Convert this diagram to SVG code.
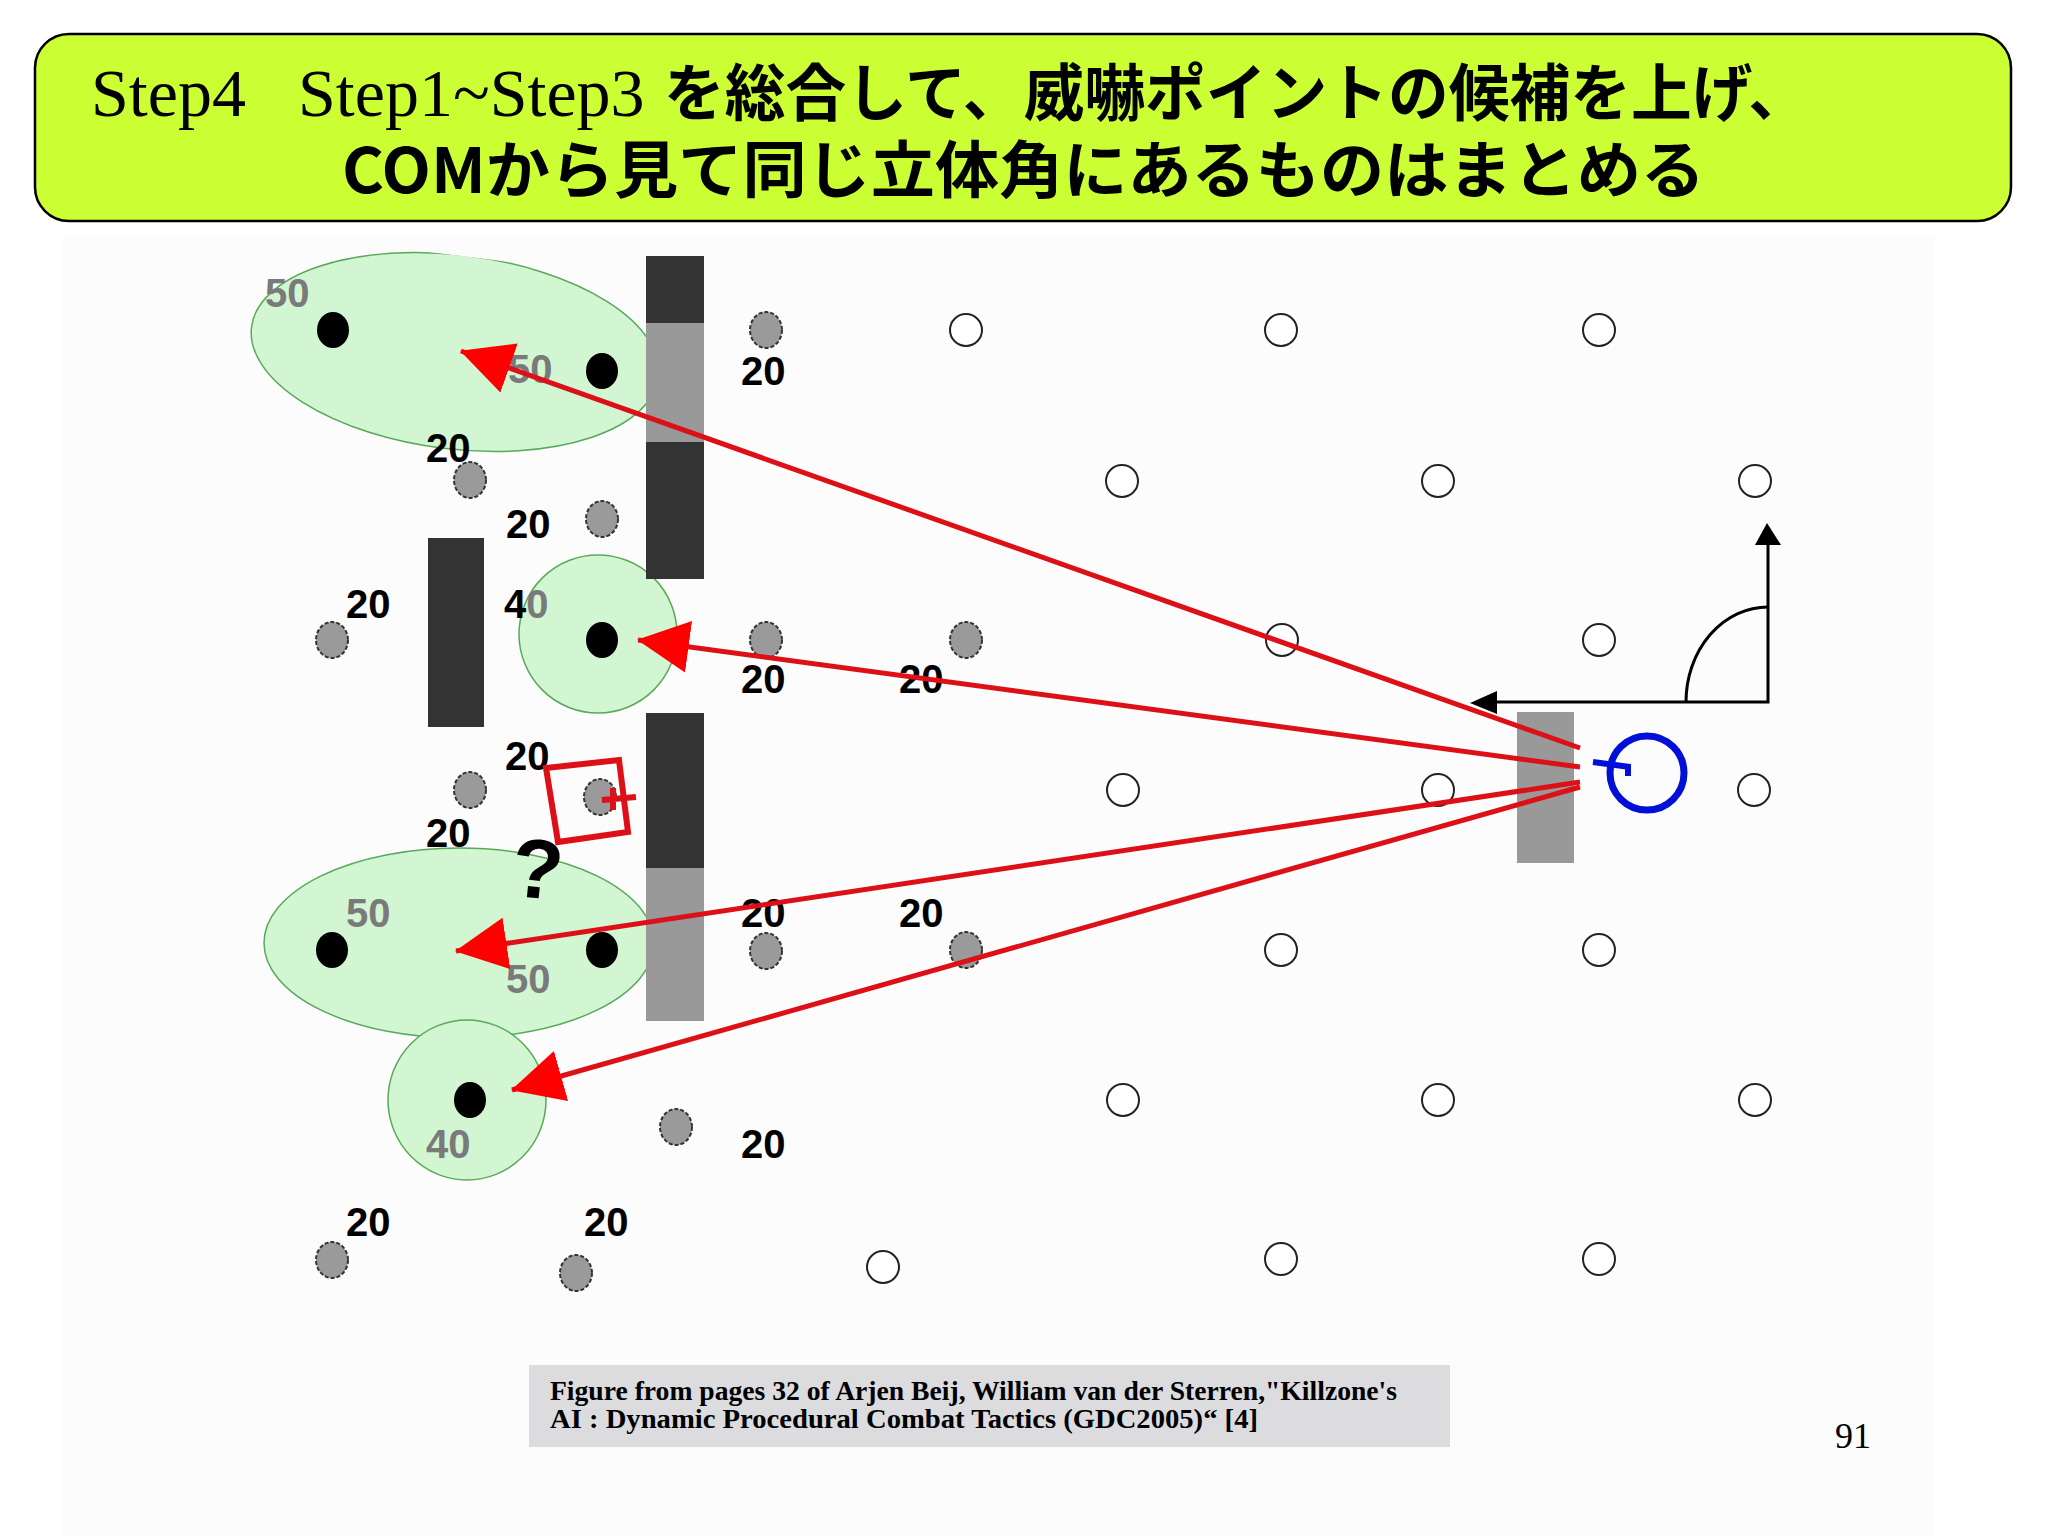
<svg xmlns="http://www.w3.org/2000/svg" width="2048" height="1536" viewBox="0 0 2048 1536">
<defs>
<style>
.title{fill:#ccff33;stroke:#000;stroke-width:2.5}
.serif{font-family:"Liberation Serif","Times New Roman",serif}
.jp{font-family:"Noto Sans CJK JP","Noto Sans",sans-serif;font-weight:bold}
.zone{fill:#d2f5d2;stroke:#5aa85a;stroke-width:1.5}
.wall{fill:#333333}
.wallg{fill:#999999}
.blk{fill:#000}
.gry{fill:#9a9a9a;stroke:#333;stroke-width:2;stroke-dasharray:4 2}
.opn{fill:#fff;stroke:#222;stroke-width:2}
.num{font-family:"Liberation Sans",Arial,sans-serif;font-weight:bold;font-size:40px;fill:#000}
.dim{fill:#7a7a7a}
.ray{fill:none;stroke:#dd1018;stroke-width:5;marker-end:url(#ah)}
.axis{fill:none;stroke:#000;stroke-width:3}
</style>
<marker id="ah" markerUnits="userSpaceOnUse" markerWidth="52" markerHeight="52" viewBox="0 0 52 52" refX="51" refY="26" orient="auto">
<path d="M0,0 L52,26 L0,52 z" fill="#ff0000"/>
</marker>
<clipPath id="topclip"><rect x="0" y="256" width="2048" height="1280"/></clipPath>
</defs>
<rect width="2048" height="1536" fill="#ffffff"/>
<rect x="62" y="236" width="1872" height="1300" fill="#fcfcfc"/>

<g id="title">
<rect class="title" x="35" y="34" width="1976" height="187" rx="34" ry="34"/>
<text class="serif" x="91" y="116" font-size="68" fill="#000">Step4</text>
<text class="serif" x="298" y="116" font-size="68" fill="#000">Step1~Step3</text>
<text class="jp" x="664" y="116" font-size="62" fill="#000" textLength="1145" lengthAdjust="spacingAndGlyphs">を総合して、威嚇ポイントの候補を上げ、</text>
<text class="jp" x="342" y="193" font-size="62" fill="#000" textLength="1363" lengthAdjust="spacingAndGlyphs">COMから見て同じ立体角にあるものはまとめる</text>
</g>

<g id="zones">
<ellipse id="zone-top" class="zone" cx="455" cy="352" rx="205" ry="97" transform="rotate(7 455 352)" clip-path="url(#topclip)"/>
<ellipse id="zone-mid" class="zone" cx="598" cy="634" rx="79" ry="79"/>
<ellipse id="zone-bottom" class="zone" cx="459" cy="943" rx="195" ry="95"/>
<ellipse id="zone-low" class="zone" cx="467" cy="1100" rx="79" ry="80"/>
</g>

<g id="walls">
<g id="wall-top"><rect class="wall" x="646" y="256" width="58" height="323"/><rect class="wallg" x="646" y="323" width="58" height="119"/></g>
<rect id="wall-left" class="wall" x="428" y="538" width="56" height="189"/>
<g id="wall-bottom"><rect class="wall" x="646" y="713" width="58" height="308"/><rect class="wallg" x="646" y="868" width="58" height="153"/></g>
<rect id="wall-com" class="wallg" x="1517" y="712" width="57" height="151"/>
</g>

<g id="points">
<ellipse class="blk" cx="333" cy="330" rx="16" ry="18"/>
<ellipse class="blk" cx="602" cy="371" rx="16" ry="18"/>
<ellipse class="blk" cx="602" cy="640" rx="16" ry="18"/>
<ellipse class="blk" cx="332" cy="950" rx="16" ry="18"/>
<ellipse class="blk" cx="602" cy="950" rx="16" ry="18"/>
<ellipse class="blk" cx="470" cy="1100" rx="16" ry="18"/>

<ellipse class="gry" cx="766" cy="330" rx="16" ry="18"/>
<ellipse class="gry" cx="470" cy="480" rx="16" ry="18"/>
<ellipse class="gry" cx="602" cy="519" rx="16" ry="18"/>
<ellipse class="gry" cx="332" cy="640" rx="16" ry="18"/>
<ellipse class="gry" cx="766" cy="640" rx="16" ry="18"/>
<ellipse class="gry" cx="966" cy="640" rx="16" ry="18"/>
<ellipse class="gry" cx="470" cy="790" rx="16" ry="18"/>
<ellipse class="gry" cx="600" cy="797" rx="16" ry="18"/>
<ellipse class="gry" cx="766" cy="951" rx="16" ry="18"/>
<ellipse class="gry" cx="966" cy="950" rx="16" ry="18"/>
<ellipse class="gry" cx="676" cy="1127" rx="16" ry="18"/>
<ellipse class="gry" cx="332" cy="1260" rx="16" ry="18"/>
<ellipse class="gry" cx="576" cy="1273" rx="16" ry="18"/>

<circle class="opn" cx="966" cy="330" r="16"/>
<circle class="opn" cx="1281" cy="330" r="16"/>
<circle class="opn" cx="1599" cy="330" r="16"/>
<circle class="opn" cx="1122" cy="481" r="16"/>
<circle class="opn" cx="1438" cy="481" r="16"/>
<circle class="opn" cx="1755" cy="481" r="16"/>
<circle class="opn" cx="1282" cy="640" r="16"/>
<circle class="opn" cx="1599" cy="640" r="16"/>
<circle class="opn" cx="1123" cy="790" r="16"/>
<circle class="opn" cx="1438" cy="790" r="16"/>
<circle class="opn" cx="1754" cy="790" r="16"/>
<circle class="opn" cx="1281" cy="950" r="16"/>
<circle class="opn" cx="1599" cy="950" r="16"/>
<circle class="opn" cx="1123" cy="1100" r="16"/>
<circle class="opn" cx="1438" cy="1100" r="16"/>
<circle class="opn" cx="1755" cy="1100" r="16"/>
<circle class="opn" cx="883" cy="1267" r="16"/>
<circle class="opn" cx="1281" cy="1259" r="16"/>
<circle class="opn" cx="1599" cy="1259" r="16"/>
</g>

<g id="labels">
<text class="num dim" x="265" y="307">50</text>
<text class="num dim" x="508" y="383">50</text>
<text class="num" x="426" y="462">20</text>
<text class="num" x="741" y="385">20</text>
<text class="num" x="506" y="538">20</text>
<text class="num" x="346" y="618">20</text>
<text class="num" x="504" y="618">4<tspan class="dim">0</tspan></text>
<text class="num" x="741" y="693">20</text>
<text class="num" x="899" y="693">20</text>
<text class="num" x="505" y="770">20</text>
<text class="num" x="426" y="847">20</text>
<text class="num dim" x="346" y="927">50</text>
<text class="num dim" x="506" y="993">50</text>
<text class="num" x="741" y="927">20</text>
<text class="num" x="899" y="927">20</text>
<text class="num dim" x="426" y="1158">40</text>
<text class="num" x="741" y="1158">20</text>
<text class="num" x="346" y="1236">20</text>
<text class="num" x="584" y="1236">20</text>
<text class="num" x="512" y="898" style="font-size:84px" transform="rotate(6 536 868)">?</text>
</g>

<g id="unknown-marker" fill="none" stroke="#dd1018" stroke-width="6">
<path d="M546,768 L619,760 L628,832 L558,842 Z"/>
<path d="M602,800 L636,797 M613,788 L613,810"/>
</g>

<g id="axes">
<path class="axis" d="M1497,702 L1768,702 L1768,543"/>
<path d="M1470,703 L1497,691 L1497,714 Z" fill="#000"/>
<path d="M1767,523 L1755,545 L1781,545 Z" fill="#000"/>
<path class="axis" d="M1686,702 A82,95 0 0 1 1768,607"/>
</g>

<g id="com">
<circle cx="1647" cy="773" r="37" fill="none" stroke="#0010d8" stroke-width="7"/>
<path d="M1593,762 L1630,767 M1628,764 L1628,776" fill="none" stroke="#0010d8" stroke-width="6"/>
</g>

<g id="connectors">
<path class="ray" d="M1580,748 L461,351"/>
<path class="ray" d="M1580,767 L638,640"/>
<path class="ray" d="M1580,782 L456,951"/>
<path class="ray" d="M1580,787 L512,1090"/>
</g>

<g id="caption">
<rect x="529" y="1365" width="921" height="82" fill="#dcdcdf"/>
<text class="serif" x="550" y="1400" font-weight="bold" font-size="27" fill="#000" textLength="847" lengthAdjust="spacingAndGlyphs">Figure from pages 32 of Arjen Beij, William van der Sterren,"Killzone's</text>
<text class="serif" x="550" y="1428" font-weight="bold" font-size="27" fill="#000" textLength="708" lengthAdjust="spacingAndGlyphs">AI : Dynamic Procedural Combat Tactics (GDC2005)“ [4]</text>
</g>
<text id="page-number" class="serif" x="1835" y="1448" font-size="36" fill="#000">91</text>
</svg>
